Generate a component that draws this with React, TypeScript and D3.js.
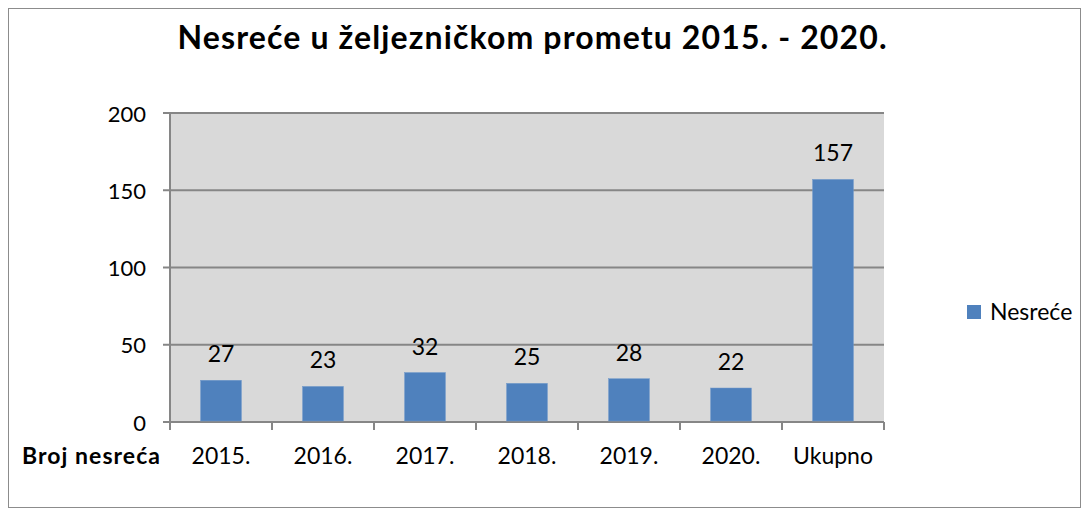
import React from "react";
import * as d3 from "d3";

const categories = ["2015.", "2016.", "2017.", "2018.", "2019.", "2020.", "Ukupno"];
const values = [27, 23, 32, 25, 28, 22, 157];
const yTicks = [0, 50, 100, 150, 200];
const title = "Nesreće u željezničkom prometu 2015. - 2020.";
const seriesName = "Nesreće";
const rowLabel = "Broj nesreća";

const W = 1089;
const H = 516;
const plot = { left: 170, right: 884, top: 113, bottom: 422 };
const font = "Lato, 'Open Sans', sans-serif";

export default function App() {
  const x = d3.scaleBand<string>().domain(categories).range([plot.left, plot.right]).paddingInner(0.6).paddingOuter(0.3);
  const xb = d3.scaleBand<string>().domain(categories).range([plot.left, plot.right]);
  const y = d3.scaleLinear().domain([0, 200]).range([plot.bottom, plot.top]);
  return (
    <svg width={W} height={H} style={{ position: "absolute", left: 0, top: 0 }}>
      <rect x={0} y={0} width={W} height={H} fill="#fff" />
      <rect x={8.5} y={8.5} width={1072} height={499} fill="#fff" stroke="#8c8c8c" strokeWidth={1} />
      <text x={532} y={49} textAnchor="middle" fontFamily={font} fontWeight="bold" fontSize={32} textLength={709} lengthAdjust="spacing" fill="#000">{title}</text>
      <rect x={plot.left} y={plot.top} width={plot.right - plot.left} height={plot.bottom - plot.top} fill="#d9d9d9" />
      {yTicks.map((t) => (
        <g key={t}>
          <line x1={plot.left - 7} x2={plot.right} y1={y(t)} y2={y(t)} stroke="#868686" strokeWidth={2} />
          <text x={146} y={y(t) + 8.5} textAnchor="end" fontFamily={font} fontSize={22} fill="#000">{t}</text>
        </g>
      ))}
      <line x1={plot.left} x2={plot.left} y1={plot.top} y2={plot.bottom} stroke="#868686" strokeWidth={2} />
      {categories.map((c) => (
        <line key={"t" + c} x1={xb(c)!} x2={xb(c)!} y1={plot.bottom} y2={plot.bottom + 8} stroke="#868686" strokeWidth={2} />
      ))}
      <line x1={plot.right} x2={plot.right} y1={plot.bottom} y2={plot.bottom + 8} stroke="#868686" strokeWidth={2} />
      {categories.map((c, i) => (
        <g key={c}>
          <rect x={x(c)!} y={y(values[i])} width={x.bandwidth()} height={plot.bottom - 1 - y(values[i])} fill="#4f81bd" stroke="#6f97c9" strokeWidth={0.5} />
          <text x={x(c)! + x.bandwidth() / 2} y={y(values[i]) - 18} textAnchor="middle" fontFamily={font} fontSize={23} fill="#000">{values[i]}</text>
          <text x={xb(c)! + xb.bandwidth() / 2} y={464} textAnchor="middle" fontFamily={font} fontSize={23} fill="#000">{c}</text>
        </g>
      ))}
      <text x={160} y={464} textAnchor="end" fontFamily={font} fontWeight="bold" fontSize={23} textLength={138} lengthAdjust="spacing" fill="#000">{rowLabel}</text>
      <rect x={967} y={305} width={14} height={14} fill="#4f81bd" />
      <text x={990} y={320} fontFamily={font} fontSize={23} fill="#000">{seriesName}</text>
    </svg>
  );
}
